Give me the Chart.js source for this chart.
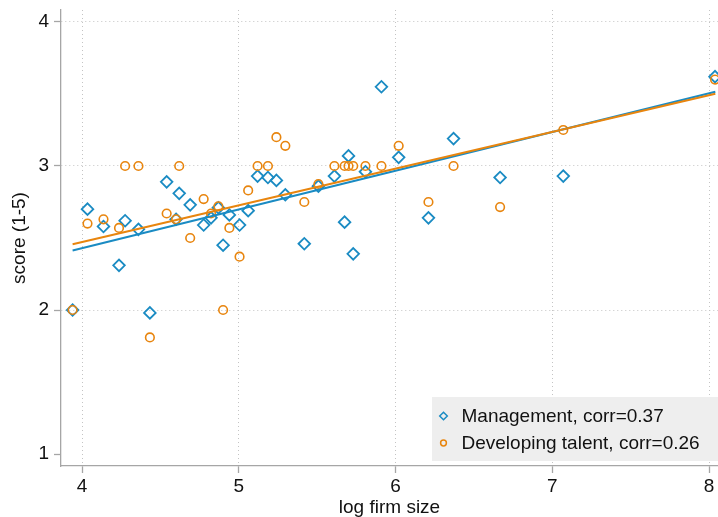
<!DOCTYPE html>
<html>
<head>
<meta charset="utf-8">
<script src="https://cdn.jsdelivr.net/npm/chart.js@4/dist/chart.umd.min.js"></script>
<style>
html,body{margin:0;padding:0;background:#fff;overflow:hidden}
#wrap{width:718px;height:517px;position:relative}
</style>
</head>
<body>
<div id="wrap"><canvas id="c" width="718" height="517"></canvas></div>
<script>
// ---- data ----
const firmSize = [3.94, 4.035, 4.137, 4.236, 4.275, 4.36, 4.433, 4.54, 4.60, 4.62, 4.69, 4.776, 4.823, 4.87, 4.90, 4.94, 5.005, 5.06, 5.12, 5.186, 5.24, 5.297, 5.418, 5.508, 5.61, 5.675, 5.70, 5.73, 5.808, 5.91, 6.02, 6.21, 6.37, 6.667, 7.07, 8.038];
const management = [2.00, 2.70, 2.58, 2.31, 2.62, 2.56, 1.98, 2.89, 2.63, 2.81, 2.73, 2.59, 2.64, 2.71, 2.45, 2.66, 2.59, 2.69, 2.93, 2.92, 2.90, 2.80, 2.46, 2.86, 2.93, 2.61, 3.07, 2.39, 2.96, 3.55, 3.06, 2.64, 3.19, 2.92, 2.93, 3.62];
const developingTalent = [2.00, 2.60, 2.63, 2.57, 3.00, 3.00, 1.81, 2.67, 2.63, 3.00, 2.50, 2.77, 2.67, 2.72, 2.00, 2.57, 2.37, 2.83, 3.00, 3.00, 3.20, 3.14, 2.75, 2.875, 3.00, 3.00, 3.00, 3.00, 3.00, 3.00, 3.14, 2.75, 3.00, 2.715, 3.25, 3.60];
const fitX = [3.94, 8.04];
const fitManagement = [2.413, 3.516];
const fitTalent = [2.457, 3.502];
const xTicks = [4, 5, 6, 7, 8];
const yTicks = [1, 2, 3, 4];
const seriesLabels = ['Management, corr=0.37', 'Developing talent, corr=0.26'];
const xTitle = 'log firm size';
const yTitle = 'score (1-5)';

const BLUE = '#1a8bc3';
const ORANGE = '#e8850e';
const FONT = "'Liberation Sans', Arial, Helvetica, sans-serif";

const toPts = (xs, ys) => xs.map((x, i) => ({x: x, y: ys[i]}));

const legendPlugin = {
  id: 'boxLegend',
  afterDraw(chart) {
    const ctx = chart.ctx;
    ctx.save();
    ctx.fillStyle = '#eeeeee';
    ctx.fillRect(432, 397, 290, 64);
    const items = chart.data.datasets.filter(d => d.legendOrder !== undefined)
      .sort((a, b) => a.legendOrder - b.legendOrder);
    const rows = [416, 443];
    items.forEach((d, i) => {
      const y = rows[i];
      ctx.strokeStyle = d.borderColor;
      ctx.fillStyle = 'rgba(0,0,0,0)';
      ctx.lineWidth = 1.5;
      Chart.helpers.drawPoint(ctx, {pointStyle: d.pointStyle, radius: d.pointStyle === 'rectRot' ? 3.8 : 2.9, rotation: 0, borderWidth: 1.5}, 443.5, y);
      ctx.fillStyle = '#111';
      ctx.font = '19px ' + FONT;
      ctx.textBaseline = 'middle';
      ctx.textAlign = 'left';
      ctx.fillText(d.label, 461.5, y + 1);
    });
    ctx.restore();
  }
};

new Chart(document.getElementById('c'), {
  type: 'scatter',
  data: {
    datasets: [
      {label: 'fit talent', data: toPts(fitX, fitTalent), showLine: true, borderColor: ORANGE, borderWidth: 2, pointRadius: 0, fill: false},
      {label: 'fit management', data: toPts(fitX, fitManagement), showLine: true, borderColor: BLUE, borderWidth: 2, pointRadius: 0, fill: false},
      {label: seriesLabels[1], legendOrder: 1, data: toPts(firmSize, developingTalent), pointStyle: 'circle', pointRadius: 4.3, borderColor: ORANGE, backgroundColor: 'rgba(0,0,0,0)', pointBorderWidth: 1.6, clip: false},
      {label: seriesLabels[0], legendOrder: 0, data: toPts(firmSize, management), pointStyle: 'rectRot', pointRadius: 5.8, borderColor: BLUE, backgroundColor: 'rgba(0,0,0,0)', pointBorderWidth: 1.8, clip: false}
    ]
  },
  options: {
    responsive: false,
    animation: false,
    devicePixelRatio: 1,
    layout: {autoPadding: false, padding: {top: 10, left: 0, right: 0, bottom: 0}},
    plugins: {legend: {display: false}, tooltip: {enabled: false}},
    scales: {
      x: {
        type: 'linear',
        min: 3.866, max: 8.057,
        afterBuildTicks: s => { s.ticks = xTicks.map(v => ({value: v})); },
        afterFit: s => { s.height = 51; s.paddingLeft = 0; s.paddingRight = 0; },
        ticks: {color: '#111', font: {size: 19, family: FONT}, padding: 2, maxRotation: 0, autoSkip: false},
        grid: {color: '#c4c4c4', lineWidth: 1, tickColor: '#a6a6a6', tickWidth: 1.3, tickLength: 7, tickBorderDash: []},
        border: {display: true, color: '#a6a6a6', width: 1.3, dash: [1, 3]},
        title: {display: true, text: xTitle, color: '#111', font: {size: 19, family: FONT}, padding: {top: 0, bottom: -2}}
      },
      y: {
        type: 'linear',
        min: 0.917, max: 4.083,
        afterBuildTicks: s => { s.ticks = yTicks.map(v => ({value: v})); },
        afterFit: s => { s.width = 61; s.paddingTop = 0; s.paddingBottom = 0; },
        ticks: {color: '#111', font: {size: 19, family: FONT}, padding: 5, autoSkip: false},
        grid: {color: c => (c.tick && c.tick.value === 1) ? 'rgba(0,0,0,0)' : '#c4c4c4', lineWidth: 1, tickColor: '#a6a6a6', tickWidth: 1.3, tickLength: 7, tickBorderDash: []},
        border: {display: true, color: '#a6a6a6', width: 1.3, dash: [1, 3]},
        title: {display: true, text: yTitle, color: '#111', font: {size: 19, family: FONT}, padding: {top: 8.5, bottom: 0}}
      }
    }
  },
  plugins: [legendPlugin]
});
</script>
</body>
</html>
